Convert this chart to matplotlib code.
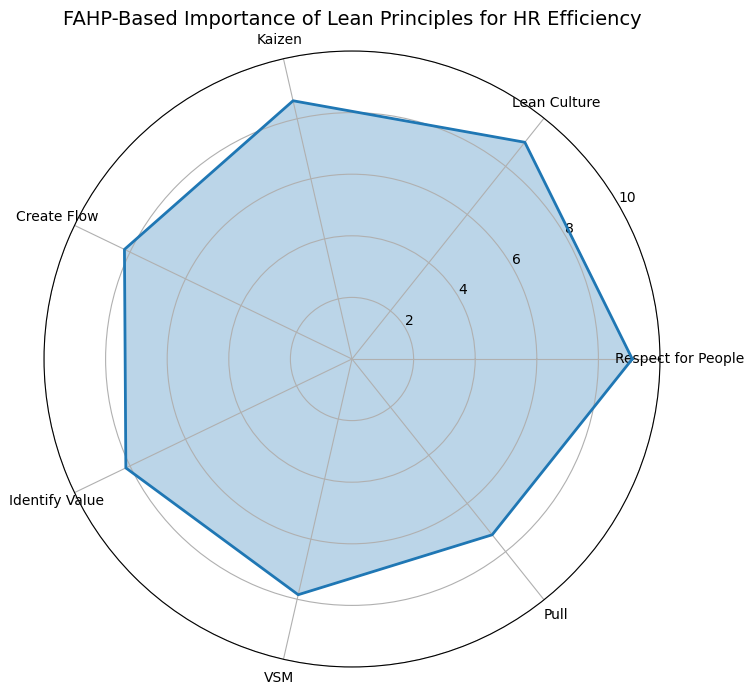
import numpy as np
import matplotlib
matplotlib.use('Agg')
import matplotlib.pyplot as plt

# Данные: принципы Lean и их веса (FAHP)
categories = ['Respect for People', 'Lean Culture', 'Kaizen', 'Create Flow',
              'Identify Value', 'VSM', 'Pull']
values = [9.1, 9.0, 8.6, 8.2, 8.15, 7.85, 7.3]
r_ticks = [2, 4, 6, 8, 10]

n = len(categories)
angles = np.linspace(0, 2 * np.pi, n, endpoint=False).tolist()
closed_angles = angles + angles[:1]
closed_values = values + values[:1]

fig = plt.figure(figsize=(7.54, 6.95), dpi=100)
ax = fig.add_axes([44 / 754, 28 / 695, 616 / 754, 616 / 695], polar=True)

ax.fill(closed_angles, closed_values, color='#1f77b4', alpha=0.3)
ax.plot(closed_angles, closed_values, color='#1f77b4', linewidth=2)

ax.set_xticks(angles)
ax.set_xticklabels(categories, fontsize=10)
ax.set_ylim(0, 10)
ax.set_yticks(r_ticks)
ax.set_yticklabels([str(t) for t in r_ticks], fontsize=10)
ax.set_rlabel_position(30)

ax.set_title('FAHP-Based Importance of Lean Principles for HR Efficiency',
             fontsize=14, y=1.0, pad=18.5)

fig.savefig('out.png', dpi=100)
